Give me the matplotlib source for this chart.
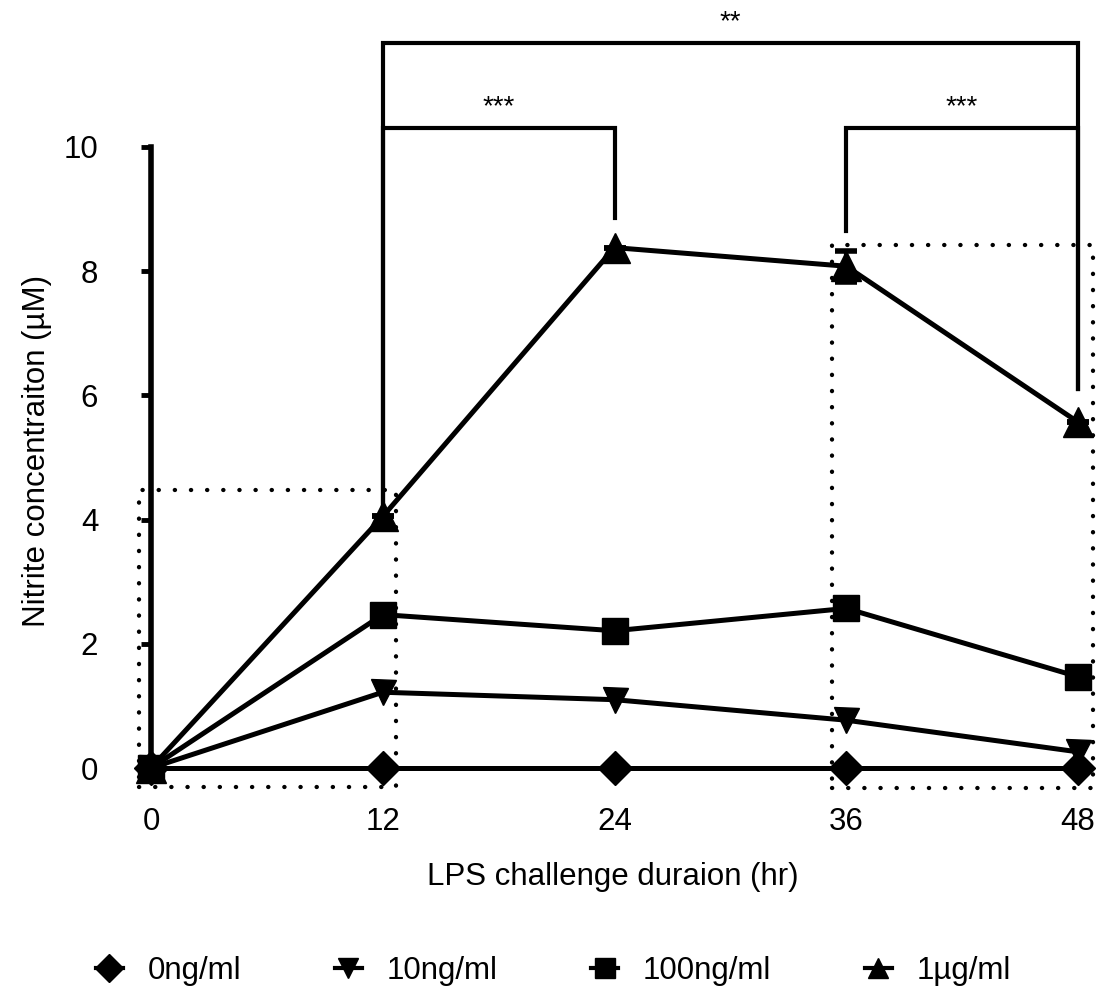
import matplotlib
matplotlib.use("Agg")
import matplotlib.pyplot as plt
from matplotlib.lines import Line2D

plt.rcParams['font.family'] = ['Liberation Sans', 'DejaVu Sans']

hours = [0, 12, 24, 36, 48]
tick_labels = ['0', '12', '24', '36', '48']
series_names = ['0ng/ml', '10ng/ml', '100ng/ml', '1µg/ml']
vals_0 = [0, 0, 0, 0, 0]
vals_10 = [0, 1.22, 1.10, 0.77, 0.26]
vals_100 = [0, 2.47, 2.21, 2.57, 1.47]
vals_1000 = [0, 4.05, 8.38, 8.08, 5.57]
err_1000 = [0, 0, 0, 0.25, 0]
markers = ['D', 'v', 's', '^']
msizes = [17, 18, 19, 21]

# significance brackets: (x1, x2, bar_y, leg1_bottom, leg2_bottom, label)
brackets = [
    (12, 24, 10.31, 4.15, 8.86, '***'),
    (36, 48, 10.31, 8.65, 6.1, '***'),
    (12, 48, 11.67, 4.15, 6.1, '**'),
]
# dotted highlight boxes: (x0, x1, y0, y1)
boxes = [(-0.62, 12.67, -0.31, 4.48), (35.26, 48.76, -0.32, 8.42)]

fig = plt.figure(figsize=(10.99, 9.90), dpi=100)
ax = fig.add_axes([151/1099, 1-768/990, (1078-151)/1099, (768-147)/990])
ax.set_xlim(0, 48)
ax.set_ylim(0, 10)

FS = 22.5
lw = 3.6

all_vals = [vals_0, vals_10, vals_100, vals_1000]
zorders = [4.0, 4.1, 4.3, 4.2]
handles = []
for i, (v, m, ms, name) in enumerate(zip(all_vals, markers, msizes, series_names)):
    if i == 3:
        ax.errorbar(hours, v, yerr=err_1000, fmt='none', ecolor='black',
                    elinewidth=3, capsize=8, capthick=4, clip_on=False, zorder=3)
    ax.plot(hours, v, color='black', lw=lw, marker=m, markersize=ms,
            markerfacecolor='black', markeredgecolor='black',
            clip_on=False, zorder=zorders[i])
    handles.append(Line2D([0], [0], color='black', lw=3, marker=m,
                          markersize=14, label=name))

# dotted boxes
for x0, x1, y0, y1 in boxes:
    ax.plot([x0, x1, x1, x0, x0], [y0, y0, y1, y1, y0], color='black',
            lw=3.1, linestyle=(0, (0.05, 3.7)), dash_capstyle='round',
            clip_on=False, zorder=2)

# brackets
for x1, x2, yb, b1, b2, lab in brackets:
    ax.plot([x1, x1, x2, x2], [b1, yb, yb, b2], color='black', lw=3,
            solid_joinstyle='miter', clip_on=False, zorder=3)
    ax.text((x1 + x2) / 2, yb + 0.22, lab, ha='center', va='baseline',
            fontsize=20, clip_on=False)

ax.set_xticks(hours)
ax.set_xticklabels(tick_labels, fontsize=FS)
ax.set_yticks([0, 2, 4, 6, 8, 10])
ax.set_yticklabels(['0', '2', '4', '6', '8', '10'], fontsize=FS)
ax.tick_params(axis='x', length=0, pad=28)
ax.tick_params(axis='y', length=7, width=3.5, direction='out', pad=31)
for s in ['top', 'right', 'bottom']:
    ax.spines[s].set_visible(False)
ax.spines['left'].set_linewidth(4)
ax.patch.set_alpha(0)

fig.text(37/1099, 1-451/990, 'Nitrite concentraiton (µM)', rotation=90,
         ha='center', va='center', fontsize=FS)
fig.text(613/1099, 1-877/990, 'LPS challenge duraion (hr)',
         ha='center', va='center', fontsize=FS)

fig.legend(handles=handles, loc='center left', bbox_to_anchor=(96/1099, 1-971/990),
           ncol=4, frameon=False, fontsize=FS, handlelength=0.85,
           handletextpad=0.8, columnspacing=3.0, borderpad=0, borderaxespad=0)

fig.savefig('out.png', dpi=100)
